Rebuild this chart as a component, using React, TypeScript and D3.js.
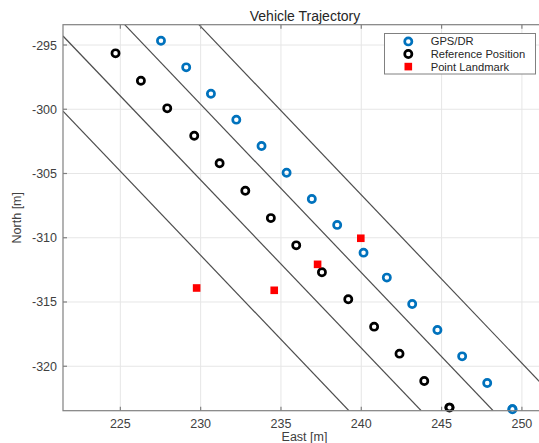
import React from "react";
import * as d3 from "d3";

// GPS/DR estimated positions (East, North) in metres
const gpsEast = [227.53, 229.1, 230.64, 232.22, 233.79, 235.35, 236.92, 238.5, 240.14, 241.59, 243.17, 244.74, 246.28, 247.84, 249.41];
const gpsNorth = [-294.67, -296.74, -298.79, -300.81, -302.86, -304.94, -306.98, -309.0, -311.16, -313.1, -315.16, -317.18, -319.23, -321.3, -323.35];

// Reference (ground truth) positions
const refEast = [224.7, 226.28, 227.92, 229.6, 231.18, 232.78, 234.37, 235.95, 237.55, 239.19, 240.8, 242.38, 243.92, 245.49];
const refNorth = [-295.65, -297.78, -299.93, -302.06, -304.2, -306.34, -308.47, -310.59, -312.69, -314.79, -316.92, -319.02, -321.15, -323.22];

// Point landmarks
const lmEast = [229.75, 234.58, 237.28, 239.97];
const lmNorth = [-313.91, -314.09, -312.07, -310.04];

// Lane boundary lines, each given by two end points
const laneStartEast = [221.43, 221.43, 225.27, 229.89];
const laneStartNorth = [-300.14, -294.3, -293.42, -293.42];
const laneEndEast = [239.23, 243.73, 248.21, 252.82];
const laneEndNorth = [-323.46, -323.46, -323.46, -323.46];

const xTicks = [225, 230, 235, 240, 245, 250];
const yTicks = [-295, -300, -305, -310, -315, -320];

const legendLabels = ["GPS/DR", "Reference Position", "Point Landmark"];

const W = 539;
const H = 443;
const left = 63;
const right = 546;
const top = 24.7;
const bottom = 410.7;

const FONT = "'Liberation Sans', Arial, Helvetica, sans-serif";
const BLUE = "#0072BD";

export default function App() {
  const x = d3.scaleLinear().domain([221.43, 251.5]).range([left, right]);
  const y = d3.scaleLinear().domain([-323.46, -293.42]).range([bottom, top]);

  const lineGen = d3
    .line<[number, number]>()
    .x((d) => x(d[0]))
    .y((d) => y(d[1]));

  const ring = (cx: number, cy: number, color: string, key: string) => (
    <circle key={key} cx={cx} cy={cy} r={3.6} fill="none" stroke={color} strokeWidth={2.7} />
  );

  const legX = 384.5;
  const legY = 33.5;
  const legW = 151;
  const legH = 40.5;
  const rowY = [41.4, 54, 66.6];

  return (
    <svg width={W} height={H} style={{ position: "absolute", left: 0, top: 0, background: "#fff" }}>
      <defs>
        <clipPath id="plotArea">
          <rect x={left} y={top} width={right - left} height={bottom - top} />
        </clipPath>
      </defs>

      {/* grid */}
      <g stroke="#e6e6e6" strokeWidth={1}>
        {xTicks.map((t) => (
          <line key={"gx" + t} x1={x(t)} x2={x(t)} y1={top} y2={bottom} />
        ))}
        {yTicks.map((t) => (
          <line key={"gy" + t} x1={left} x2={right} y1={y(t)} y2={y(t)} />
        ))}
      </g>

      {/* lane boundaries */}
      <g clipPath="url(#plotArea)" fill="none" stroke="#4d4d4d" strokeWidth={1.2}>
        {laneStartEast.map((_, i) => (
          <path
            key={"lane" + i}
            d={
              lineGen([
                [laneStartEast[i], laneStartNorth[i]],
                [laneEndEast[i], laneEndNorth[i]],
              ]) || ""
            }
          />
        ))}
      </g>

      {/* markers */}
      <g clipPath="url(#plotArea)">
        {gpsEast.map((e, i) => ring(x(e), y(gpsNorth[i]), BLUE, "g" + i))}
        {refEast.map((e, i) => ring(x(e), y(refNorth[i]), "#000", "r" + i))}
        {lmEast.map((e, i) => (
          <rect key={"l" + i} x={x(e) - 3.8} y={y(lmNorth[i]) - 3.8} width={7.6} height={7.6} fill="#ff0000" />
        ))}
      </g>
      {/* markers on the lower edge are not clipped */}
      {ring(x(refEast[13]), y(refNorth[13]), "#000", "rb")}
      {ring(x(gpsEast[14]), y(gpsNorth[14]), BLUE, "gb")}

      {/* axes box */}
      <g stroke="#808080" strokeWidth={1.2} fill="none">
        <rect x={left} y={top} width={right - left} height={bottom - top} />
        {xTicks.map((t) => (
          <g key={"tx" + t}>
            <line x1={x(t)} x2={x(t)} y1={bottom} y2={bottom - 4} />
            <line x1={x(t)} x2={x(t)} y1={top} y2={top + 4} />
          </g>
        ))}
        {yTicks.map((t) => (
          <line key={"ty" + t} x1={left} x2={left + 4} y1={y(t)} y2={y(t)} />
        ))}
      </g>

      {/* tick labels */}
      <g fontFamily={FONT} fontSize={12.5} fill="#404040">
        {xTicks.map((t) => (
          <text key={"lx" + t} x={x(t)} y={427.5} textAnchor="middle">
            {t}
          </text>
        ))}
        {yTicks.map((t) => (
          <text key={"ly" + t} x={left - 6} y={y(t) + 4.5} textAnchor="end">
            {t}
          </text>
        ))}
      </g>

      {/* axis labels and title */}
      <text x={(left + right) / 2} y={441} textAnchor="middle" fontFamily={FONT} fontSize={12.5} fill="#404040">
        East [m]
      </text>
      <text
        transform={`translate(21, ${(top + bottom) / 2}) rotate(-90)`}
        textAnchor="middle"
        fontFamily={FONT}
        fontSize={12.5}
        fill="#404040"
      >
        North [m]
      </text>
      <text x={305} y={20.5} textAnchor="middle" fontFamily={FONT} fontSize={14} fill="#262626">
        Vehicle Trajectory
      </text>

      {/* legend */}
      <rect x={legX} y={legY} width={legW} height={legH} fill="#fff" stroke="#808080" strokeWidth={1} />
      {ring(408.3, rowY[0], BLUE, "legG")}
      {ring(408.3, rowY[1], "#000", "legR")}
      <rect x={408.3 - 3.8} y={rowY[2] - 3.8} width={7.6} height={7.6} fill="#ff0000" />
      <g fontFamily={FONT} fontSize={11.2} fill="#262626">
        {legendLabels.map((s, i) => (
          <text key={s} x={430.7} y={rowY[i] + 4}>
            {s}
          </text>
        ))}
      </g>
    </svg>
  );
}
